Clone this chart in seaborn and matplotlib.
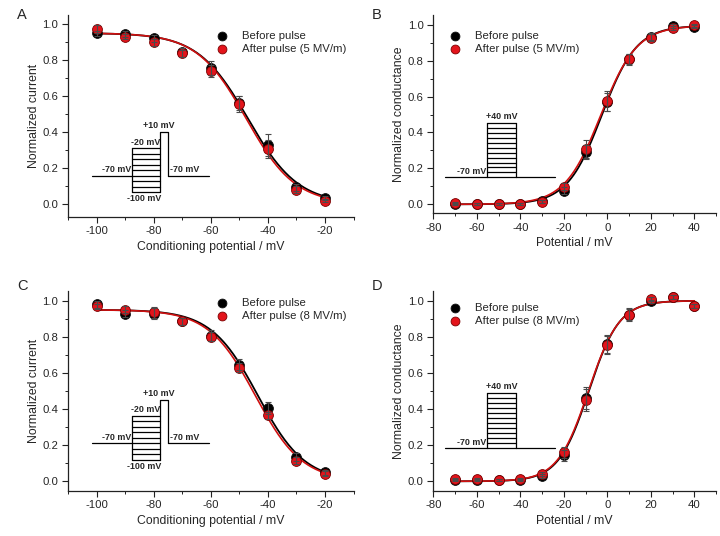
import numpy as np
import pandas as pd
import matplotlib
matplotlib.use('Agg')
import matplotlib.pyplot as plt
import seaborn as sns
from matplotlib.ticker import MultipleLocator

sns.set_theme(style='ticks')
plt.rcParams['font.family'] = ['Liberation Sans', 'DejaVu Sans']
plt.rcParams['axes.unicode_minus'] = False

# --- data ---
# steady-state inactivation (panels A, C)
v_inact = [-100, -90, -80, -70, -60, -50, -40, -30, -20]
a_before = [0.948, 0.944, 0.920, 0.843, 0.757, 0.563, 0.328, 0.093, 0.033]
a_before_err = [0.015, 0.015, 0.02, 0.025, 0.04, 0.04, 0.06, 0.02, 0.01]
a_after = [0.972, 0.930, 0.898, 0.837, 0.739, 0.557, 0.306, 0.081, 0.019]
a_after_err = [0.02, 0.015, 0.02, 0.02, 0.035, 0.045, 0.05, 0.02, 0.01]

c_before = [0.980, 0.928, 0.928, 0.886, 0.806, 0.646, 0.406, 0.135, 0.050]
c_before_err = [0.02, 0.02, 0.03, 0.02, 0.03, 0.03, 0.035, 0.02, 0.015]
c_after = [0.969, 0.950, 0.937, 0.886, 0.800, 0.630, 0.365, 0.114, 0.042]
c_after_err = [0.015, 0.02, 0.03, 0.02, 0.025, 0.025, 0.02, 0.02, 0.015]

# activation (panels B, D)
v_act = [-70, -60, -50, -40, -30, -20, -10, 0, 10, 20, 30, 40]
b_before = [0.0, 0.0, 0.0, 0.002, 0.017, 0.076, 0.293, 0.571, 0.807, 0.933, 0.994, 0.989]
b_before_err = [0.005, 0.005, 0.005, 0.005, 0.008, 0.02, 0.04, 0.05, 0.03, 0.02, 0.01, 0.01]
b_after = [0.007, 0.004, 0.002, 0.004, 0.015, 0.098, 0.308, 0.575, 0.809, 0.928, 0.981, 0.996]
b_after_err = [0.005, 0.005, 0.005, 0.005, 0.01, 0.02, 0.05, 0.055, 0.03, 0.02, 0.01, 0.01]

d_before = [0.007, 0.006, 0.006, 0.009, 0.031, 0.144, 0.461, 0.760, 0.923, 0.996, 1.020, 0.970]
d_before_err = [0.005, 0.005, 0.005, 0.005, 0.01, 0.03, 0.06, 0.05, 0.035, 0.01, 0.01, 0.01]
d_after = [0.013, 0.013, 0.009, 0.011, 0.042, 0.160, 0.452, 0.756, 0.923, 1.011, 1.022, 0.970]
d_after_err = [0.005, 0.005, 0.005, 0.005, 0.01, 0.03, 0.06, 0.05, 0.03, 0.01, 0.01, 0.01]

# Boltzmann fit parameters (top, V1/2, slope)
fit_a = {'before': (0.95, -47.0, 8.8), 'after': (0.95, -47.6, 8.6)}
fit_c = {'before': (0.95, -43.5, 8.2), 'after': (0.95, -44.4, 8.2)}
fit_b = {'before': (0.995, -2.5, 8.0), 'after': (0.995, -3.0, 8.3)}
fit_d = {'before': (1.0, -8.5, 7.0), 'after': (1.0, -8.7, 7.1)}

# pulse protocols for the insets
inact_steps = [-100, -90, -80, -70, -60, -50, -40, -30, -20]
inact_hold, inact_test = -70, 10
inact_durations = [40.7, 27.7, 7.7, 41.3]   # hold, step, test, tail
act_steps = [-70, -60, -50, -40, -30, -20, -10, 0, 10, 20, 30, 40]
act_hold = -70
act_durations = [42, 28, 39]               # hold, step, tail

BLACK = '#000000'
RED = '#e3141b'
ERR = '#4a4a4a'


def inact_curve(v, top, vh, k):
    return top / (1 + np.exp((v - vh) / k))


def act_curve(v, top, vh, k):
    return top / (1 + np.exp((vh - v) / k))


def draw_panel(ax, v, before, before_err, after, after_err, fits, curve, vrange, label):
    vv = np.linspace(vrange[0], vrange[1], 300)
    sns.lineplot(x=vv, y=curve(vv, *fits['before']), color=BLACK, lw=1.3, ax=ax, zorder=2)
    sns.lineplot(x=vv, y=curve(vv, *fits['after']), color='#d01010', lw=1.2, ax=ax, zorder=2)
    df = pd.DataFrame({'V': v + v, 'y': before + after,
                       'cond': ['Before pulse'] * len(v) + [label] * len(v)})
    sns.scatterplot(data=df[df.cond == 'Before pulse'], x='V', y='y', color=BLACK,
                    edgecolor='#111111', linewidth=0.6, s=50, ax=ax, zorder=4,
                    label='Before pulse')
    sns.scatterplot(data=df[df.cond == label], x='V', y='y', color=RED,
                    edgecolor='#7a0000', linewidth=0.6, s=50, ax=ax, zorder=5,
                    label=label)
    ax.errorbar(v, before, yerr=before_err, fmt='none', ecolor=ERR, elinewidth=0.8,
                capsize=2.5, capthick=0.8, zorder=6)
    ax.errorbar(v, after, yerr=after_err, fmt='none', ecolor=ERR, elinewidth=0.8,
                capsize=2.5, capthick=0.8, zorder=6)


def style_axes(ax, xlim, ylim, xmajor, xlabel, ylabel):
    ax.set_xlim(*xlim)
    ax.set_ylim(*ylim)
    ax.xaxis.set_major_locator(MultipleLocator(xmajor))
    ax.xaxis.set_minor_locator(MultipleLocator(xmajor / 2))
    ax.yaxis.set_major_locator(MultipleLocator(0.2))
    ax.yaxis.set_minor_locator(MultipleLocator(0.1))
    ax.set_yticks(np.arange(0, 1.01, 0.2))
    ax.yaxis.set_major_formatter(plt.FormatStrFormatter('%.1f'))
    sns.despine(ax=ax)
    for s in ['left', 'bottom']:
        ax.spines[s].set_linewidth(0.9)
        ax.spines[s].set_color('#222222')
    ax.tick_params(which='major', length=4, width=0.8, labelsize=8.2, pad=3, color='#222222')
    ax.tick_params(which='minor', length=2.5, width=0.7, color='#222222')
    ax.set_xlabel(xlabel, fontsize=8.8, labelpad=3)
    ax.set_ylabel(ylabel, fontsize=8.8, labelpad=2)


def inact_inset(ax, bounds):
    ins = ax.inset_axes(bounds, transform=ax.transData)
    ins.axis('off')
    t1 = inact_durations[0]
    t2 = t1 + inact_durations[1]
    t3 = t2 + inact_durations[2]
    t4 = t3 + inact_durations[3]
    ins.set_xlim(0, t4)
    ins.set_ylim(inact_steps[0], inact_test)
    kw = dict(color='black', lw=0.9, clip_on=False)
    ins.plot([0, t1], [inact_hold, inact_hold], **kw)
    for lv in inact_steps:
        ins.plot([t1, t2], [lv, lv], **kw)
    ins.plot([t1, t1], [inact_steps[0], inact_steps[-1]], **kw)
    ins.plot([t2, t2, t3, t3], [inact_steps[0], inact_test, inact_test, inact_hold], **kw)
    ins.plot([t3, t4], [inact_hold, inact_hold], **kw)
    tk = dict(fontsize=6.4, fontweight='bold', clip_on=False)
    ins.text(t1 - 1, inact_hold + 3, '-70 mV', ha='right', va='bottom', **tk)
    ins.text(t2, inact_steps[-1] + 3, '-20 mV', ha='right', va='bottom', **tk)
    ins.text(t2 - 1, inact_test + 3, '+10 mV', ha='center', va='bottom', **tk)
    ins.text((t1 + t2) / 2 - 2, inact_steps[0] - 4, '-100 mV', ha='center', va='top', **tk)
    ins.text(t3 + 2, inact_hold + 3, '-70 mV', ha='left', va='bottom', **tk)


def act_inset(ax, bounds):
    ins = ax.inset_axes(bounds, transform=ax.transData)
    ins.axis('off')
    t1 = act_durations[0]
    t2 = t1 + act_durations[1]
    t3 = t2 + act_durations[2]
    ins.set_xlim(0, t3)
    ins.set_ylim(act_steps[0], act_steps[-1])
    kw = dict(color='black', lw=0.9, clip_on=False)
    ins.plot([0, t1], [act_hold, act_hold], **kw)
    for lv in act_steps:
        ins.plot([t1, t2], [lv, lv], **kw)
    ins.plot([t1, t1], [act_steps[0], act_steps[-1]], **kw)
    ins.plot([t2, t2], [act_steps[0], act_steps[-1]], **kw)
    ins.plot([t2, t3], [act_hold, act_hold], **kw)
    tk = dict(fontsize=6.4, fontweight='bold', clip_on=False)
    ins.text(t1 - 1, act_hold + 3, '-70 mV', ha='right', va='bottom', **tk)
    ins.text((t1 + t2) / 2, act_steps[-1] + 3, '+40 mV', ha='center', va='bottom', **tk)


fig = plt.figure(figsize=(7.2, 5.36), dpi=100)
axA = fig.add_axes([0.0946, 0.5957, 0.3964, 0.3763])
axB = fig.add_axes([0.6019, 0.6020, 0.3926, 0.3700])
axC = fig.add_axes([0.0946, 0.0845, 0.3964, 0.3720])
axD = fig.add_axes([0.6019, 0.0845, 0.3926, 0.3720])

draw_panel(axA, v_inact, a_before, a_before_err, a_after, a_after_err, fit_a,
           inact_curve, (-100, -20), 'After pulse (5 MV/m)')
draw_panel(axB, v_act, b_before, b_before_err, b_after, b_after_err, fit_b,
           act_curve, (-70, 40), 'After pulse (5 MV/m)')
draw_panel(axC, v_inact, c_before, c_before_err, c_after, c_after_err, fit_c,
           inact_curve, (-100, -20), 'After pulse (8 MV/m)')
draw_panel(axD, v_act, d_before, d_before_err, d_after, d_after_err, fit_d,
           act_curve, (-70, 40), 'After pulse (8 MV/m)')

style_axes(axA, (-110, -10), (-0.07, 1.05), 20, 'Conditioning potential / mV', 'Normalized current')
style_axes(axB, (-80, 50), (-0.05, 1.054), 20, 'Potential / mV', 'Normalized conductance')
style_axes(axC, (-110, -10), (-0.052, 1.052), 20, 'Conditioning potential / mV', 'Normalized current')
style_axes(axD, (-80, 50), (-0.052, 1.052), 20, 'Potential / mV', 'Normalized conductance')

leg_kw = dict(loc='upper left', frameon=False, fontsize=8.2, handlelength=1.0,
              handletextpad=1.25, labelspacing=0.22, borderpad=0, borderaxespad=0,
              markerscale=0.9)
axA.legend(bbox_to_anchor=(0.519, 0.92), **leg_kw)
axB.legend(bbox_to_anchor=(0.055, 0.919), **leg_kw)
axC.legend(bbox_to_anchor=(0.519, 0.965), **leg_kw)
axD.legend(bbox_to_anchor=(0.055, 0.941), **leg_kw)

inact_inset(axA, [-101.8, 0.067, 41.1, 0.335])
inact_inset(axC, [-101.8, 0.120, 41.1, 0.332])
act_inset(axB, [-74.5, 0.150, 50.3, 0.304])
act_inset(axD, [-74.5, 0.184, 50.3, 0.305])

for lab, (x, y) in zip('ABCD', [(17, 15), (372, 15), (17, 286), (372, 286)]):
    fig.text(x / 720, 1 - y / 536, lab, fontsize=10.5, ha='left', va='center')

fig.savefig('out.png', dpi=100, facecolor='white')
